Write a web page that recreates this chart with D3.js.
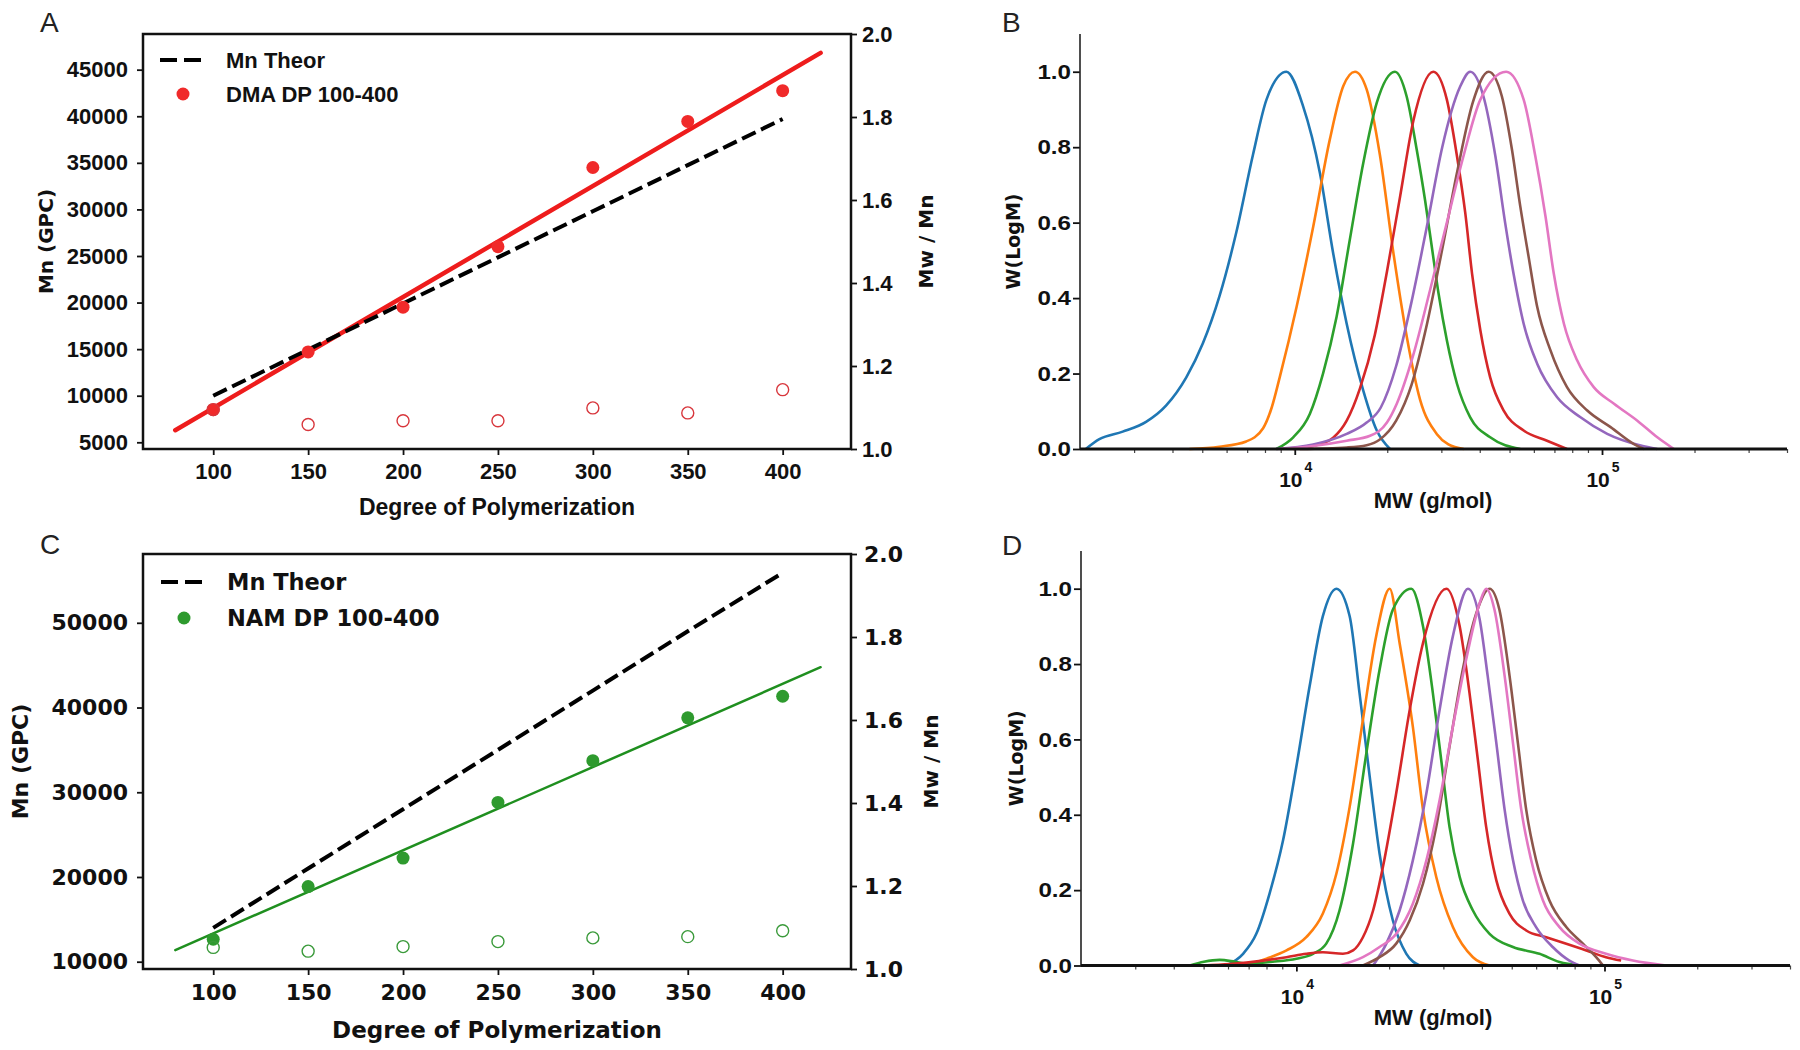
<!DOCTYPE html>
<html><head><meta charset="utf-8">
<script src="https://cdn.jsdelivr.net/npm/d3@7"></script>
<style>body{margin:0;background:#fff;}svg{display:block;}</style>
</head><body>
<svg id="fig" width="1800" height="1050"></svg>
<script>
// ---------------- DATA ----------------
const dp = [100, 150, 200, 250, 300, 350, 400];
// Panel A (DMA)
const dmaMnGPC   = [8500, 14700, 19500, 26000, 34500, 39450, 42750];
const dmaMnTheor = [10000, 14950, 19900, 24850, 29800, 34750, 39700];
const dmaPDI     = [1.095, 1.059, 1.068, 1.068, 1.099, 1.087, 1.143];
const dmaFitDP   = [80, 420];
const dmaFitMn   = [6300, 46800];
// Panel C (NAM)
const namMnGPC   = [12650, 18870, 22230, 28800, 33730, 38780, 41330];
const namMnTheor = [14000, 21000, 28000, 35000, 42000, 49000, 55900];
const namPDI     = [1.052, 1.043, 1.054, 1.066, 1.075, 1.078, 1.092];
const namFitDP   = [80, 420];
const namFitMn   = [11370, 44760];
const mnTicksA = [5000, 10000, 15000, 20000, 25000, 30000, 35000, 40000, 45000];
const mnTicksC = [10000, 20000, 30000, 40000, 50000];
const pdiTicks = [1.0, 1.2, 1.4, 1.6, 1.8, 2.0];
const wTicks = [0.0, 0.2, 0.4, 0.6, 0.8, 1.0];
const mwMajor = [1e4, 1e5];
const mwMinor = [3e3,4e3,5e3,6e3,7e3,8e3,9e3,2e4,3e4,4e4,5e4,6e4,7e4,8e4,9e4,2e5,3e5,4e5];

// Panel B GPC traces: [log10(MW), W(logM)]
const bBlue = [[3.320,0],[3.364,0.026],[3.440,0.046],[3.516,0.072],[3.581,0.115],[3.647,0.19],[3.701,0.28],[3.755,0.405],[3.810,0.575],[3.864,0.78],[3.908,0.926],[3.973,1.0],[4.027,0.909],[4.082,0.731],[4.125,0.519],[4.169,0.332],[4.223,0.155],[4.267,0.049],[4.310,0]];
const bOrange = [[3.657,0],[3.755,0.006],[3.842,0.02],[3.897,0.055],[3.925,0.11],[3.951,0.19],[4.006,0.377],[4.060,0.589],[4.114,0.82],[4.158,0.962],[4.196,1.0],[4.234,0.953],[4.277,0.78],[4.321,0.52],[4.364,0.30],[4.408,0.13],[4.462,0.04],[4.50,0.012],[4.55,0]];
const bGreen = [[3.940,0],[3.995,0.031],[4.049,0.093],[4.092,0.2],[4.136,0.35],[4.179,0.554],[4.223,0.758],[4.267,0.918],[4.326,1.0],[4.364,0.935],[4.397,0.793],[4.424,0.66],[4.446,0.536],[4.468,0.412],[4.495,0.288],[4.528,0.173],[4.571,0.084],[4.636,0.031],[4.734,0]];
const bRed = [[3.995,0],[4.060,0.008],[4.125,0.03],[4.169,0.075],[4.212,0.16],[4.26,0.30],[4.30,0.47],[4.343,0.67],[4.386,0.87],[4.451,1.0],[4.495,0.926],[4.528,0.776],[4.555,0.625],[4.577,0.465],[4.604,0.315],[4.636,0.19],[4.680,0.102],[4.745,0.049],[4.821,0.022],[4.886,0]];
const bPurple = [[3.940,0],[4.060,0.012],[4.169,0.04],[4.234,0.07],[4.28,0.11],[4.33,0.22],[4.38,0.39],[4.43,0.59],[4.48,0.80],[4.538,0.96],[4.571,1.0],[4.614,0.935],[4.653,0.776],[4.685,0.598],[4.712,0.465],[4.745,0.332],[4.789,0.226],[4.854,0.137],[4.930,0.084],[5.017,0.04],[5.126,0.009],[5.180,0]];
const bBrown = [[4.016,0],[4.169,0.004],[4.234,0.01],[4.277,0.025],[4.33,0.075],[4.38,0.17],[4.43,0.33],[4.48,0.53],[4.53,0.74],[4.58,0.92],[4.631,1.0],[4.674,0.935],[4.707,0.793],[4.734,0.643],[4.761,0.51],[4.789,0.377],[4.832,0.262],[4.886,0.164],[4.952,0.102],[5.028,0.058],[5.104,0.013],[5.137,0]];
const bPink = [[3.951,0],[4.06,0.008],[4.169,0.022],[4.245,0.035],[4.30,0.07],[4.332,0.12],[4.386,0.25],[4.440,0.42],[4.495,0.60],[4.549,0.776],[4.604,0.926],[4.688,1.0],[4.745,0.926],[4.783,0.776],[4.816,0.617],[4.843,0.465],[4.876,0.332],[4.919,0.235],[4.973,0.164],[5.039,0.12],[5.115,0.075],[5.180,0.031],[5.234,0]];

// Panel D GPC traces
const dBlue = [[3.773,0],[3.827,0.031],[3.870,0.084],[3.913,0.191],[3.957,0.333],[4.0,0.528],[4.043,0.741],[4.086,0.927],[4.130,1.0],[4.173,0.927],[4.205,0.723],[4.238,0.501],[4.270,0.297],[4.313,0.12],[4.357,0.031],[4.40,0]];
const dOrange = [[3.838,0],[3.903,0.018],[3.968,0.04],[4.032,0.075],[4.086,0.138],[4.130,0.244],[4.173,0.421],[4.216,0.652],[4.259,0.874],[4.303,1.0],[4.335,0.856],[4.378,0.634],[4.411,0.413],[4.454,0.235],[4.508,0.102],[4.573,0.022],[4.627,0]];
const dGreen = [[3.654,0],[3.70,0.01],[3.751,0.015],[3.80,0.01],[3.837,0.005],[3.923,0.01],[4.0,0.018],[4.054,0.031],[4.097,0.058],[4.140,0.146],[4.184,0.324],[4.227,0.563],[4.270,0.785],[4.313,0.944],[4.373,1.0],[4.411,0.9],[4.443,0.723],[4.470,0.546],[4.497,0.368],[4.530,0.235],[4.573,0.146],[4.627,0.084],[4.703,0.049],[4.789,0.031],[4.854,0.009],[4.919,0]];
const dRed = [[3.697,0],[3.784,0.004],[3.892,0.013],[3.968,0.022],[4.032,0.031],[4.086,0.035],[4.151,0.031],[4.184,0.04],[4.216,0.075],[4.249,0.146],[4.281,0.262],[4.324,0.457],[4.368,0.679],[4.411,0.856],[4.487,1.0],[4.530,0.9],[4.562,0.723],[4.589,0.546],[4.616,0.368],[4.649,0.226],[4.692,0.137],[4.746,0.093],[4.811,0.075],[4.876,0.058],[4.941,0.04],[5.005,0.022],[5.054,0.013]];
const dPurple = [[4.249,0],[4.292,0.058],[4.335,0.146],[4.378,0.279],[4.422,0.457],[4.465,0.679],[4.508,0.874],[4.557,1.0],[4.595,0.918],[4.621,0.768],[4.649,0.59],[4.676,0.413],[4.703,0.28],[4.735,0.173],[4.778,0.102],[4.832,0.049],[4.886,0.013],[4.919,0]];
const dBrown = [[4.216,0],[4.270,0.022],[4.324,0.058],[4.368,0.12],[4.411,0.217],[4.454,0.368],[4.497,0.581],[4.540,0.785],[4.584,0.935],[4.627,1.0],[4.659,0.944],[4.692,0.768],[4.719,0.59],[4.746,0.413],[4.778,0.28],[4.821,0.173],[4.876,0.102],[4.930,0.058],[4.973,0.022],[4.995,0]];
const dPink = [[4.140,0],[4.216,0.022],[4.270,0.049],[4.324,0.084],[4.378,0.164],[4.422,0.279],[4.465,0.439],[4.508,0.634],[4.551,0.812],[4.595,0.962],[4.616,1.0],[4.643,0.944],[4.676,0.768],[4.703,0.59],[4.730,0.413],[4.762,0.28],[4.800,0.173],[4.854,0.102],[4.919,0.058],[5.005,0.031],[5.092,0.013],[5.200,0]];

const palette = ['#1f77b4','#ff7f0e','#2ca02c','#d62728','#9467bd','#8c564b','#e377c2'];

// ---------------- DRAW ----------------
const ARIAL = "'Liberation Sans', Arial, Helvetica, sans-serif";
const DJV = "'DejaVu Sans', Verdana, sans-serif";
const svg = d3.select('#fig');

function styleAxis(g, font, size) {
  g.select('.domain').remove();
  g.selectAll('text').attr('font-family', font).attr('font-size', size)
    .attr('font-weight', 'bold').attr('fill', '#111');
  g.selectAll('line').attr('stroke', '#111').attr('stroke-width', 1.8);
}

function stretch(sel, k) {
  sel.each(function () {
    const w = this.getComputedTextLength();
    d3.select(this).attr('textLength', w * k).attr('lengthAdjust', 'spacingAndGlyphs');
  });
}

function panelLabel(t, x, y) {
  svg.append('text').attr('x', x).attr('y', y).text(t)
    .attr('font-family', ARIAL).attr('font-size', 28).attr('fill', '#222');
}

function rotLabel(t, x, y, font, size) {
  svg.append('text').attr('transform', `translate(${x},${y}) rotate(-90)`)
    .attr('text-anchor', 'middle').attr('dy', '0.36em').text(t)
    .attr('font-family', font).attr('font-size', size).attr('font-weight', 'bold').attr('fill', '#111');
}

function scatterPanel(c) {
  const g = svg.append('g');
  const x = d3.scaleLinear().domain(c.xDom).range([c.l, c.r]);
  const y = d3.scaleLinear().domain(c.yDom).range([c.b, c.t]);
  const y2 = d3.scaleLinear().domain([1, 2]).range([c.b, c.t]);

  const ax = g.append('g').attr('transform', `translate(0,${c.b})`)
    .call(d3.axisBottom(x).tickValues(dp).tickSize(6).tickPadding(c.xPad).tickFormat(d3.format('d')));
  styleAxis(ax, c.font, c.tickFs);
  const ay = g.append('g').attr('transform', `translate(${c.l},0)`)
    .call(d3.axisLeft(y).tickValues(c.yTicks).tickSize(6).tickPadding(9).tickFormat(d3.format('d')));
  styleAxis(ay, c.font, c.tickFs);
  const ay2 = g.append('g').attr('transform', `translate(${c.r},0)`)
    .call(d3.axisRight(y2).tickValues(pdiTicks).tickSize(6).tickPadding(c.y2Pad).tickFormat(d3.format('.1f')));
  styleAxis(ay2, c.font, c.tickFs);

  // fit line
  g.append('path').datum(c.fitDP.map((d, i) => [d, c.fitMn[i]]))
    .attr('d', d3.line().x(d => x(d[0])).y(d => y(d[1])))
    .attr('stroke', c.fitColor).attr('stroke-width', c.fitW).attr('fill', 'none').attr('stroke-linecap', 'round');
  // theory dashed
  g.append('path').datum(dp.map((d, i) => [d, c.theor[i]]))
    .attr('d', d3.line().x(d => x(d[0])).y(d => y(d[1])))
    .attr('stroke', '#000').attr('stroke-width', 4).attr('fill', 'none').attr('stroke-dasharray', '15 6');
  // filled points
  g.selectAll(null).data(dp).join('circle')
    .attr('cx', d => x(d)).attr('cy', (d, i) => y(c.mn[i])).attr('r', 6.5)
    .attr('fill', c.ptColor);
  // open PDI points
  g.selectAll(null).data(dp).join('circle')
    .attr('cx', d => x(d)).attr('cy', (d, i) => y2(c.pdi[i])).attr('r', 6)
    .attr('fill', 'none').attr('stroke', c.openColor).attr('stroke-width', 1.4);

  // box
  g.append('rect').attr('x', c.l).attr('y', c.t).attr('width', c.r - c.l).attr('height', c.b - c.t)
    .attr('fill', 'none').attr('stroke', '#111').attr('stroke-width', 2.5);

  // legend
  const L = c.legend;
  g.append('line').attr('x1', L.x0).attr('x2', L.x0 + 42).attr('y1', L.y1).attr('y2', L.y1)
    .attr('stroke', '#000').attr('stroke-width', 4).attr('stroke-dasharray', '17 7');
  g.append('circle').attr('cx', L.x0 + 23).attr('cy', L.y2).attr('r', 6.5).attr('fill', c.ptColor);
  [['Mn Theor', L.y1], [c.name, L.y2]].forEach(([t, yy]) => {
    g.append('text').attr('x', L.tx).attr('y', yy).attr('dy', '0.36em').text(t)
      .attr('font-family', c.font).attr('font-size', c.legFs).attr('font-weight', 'bold').attr('fill', '#111');
  });

  // axis labels
  g.append('text').attr('x', (c.l + c.r) / 2).attr('y', c.xlabY).attr('text-anchor', 'middle')
    .text('Degree of Polymerization').attr('font-family', c.font).attr('font-size', c.xlabFs)
    .attr('font-weight', 'bold').attr('fill', '#111');
  rotLabel('Mn (GPC)', c.ylabX, (c.t + c.b) / 2, DJV, c.ylabFs);
  rotLabel('Mw / Mn', c.y2labX, (c.t + c.b) / 2, DJV, 20);
}

scatterPanel({
  l: 143, r: 851, t: 34, b: 449, xDom: [63, 436], yDom: [4280, 48830],
  yTicks: mnTicksA, font: ARIAL, tickFs: 22, xPad: 8, y2Pad: 5,
  mn: dmaMnGPC, theor: dmaMnTheor, pdi: dmaPDI, fitDP: dmaFitDP, fitMn: dmaFitMn,
  fitColor: '#ee1c1c', fitW: 4.5, ptColor: '#f02a2a', openColor: '#d8363c',
  name: 'DMA DP 100-400', legFs: 22, legend: {x0: 160, tx: 226, y1: 60, y2: 94},
  xlabY: 515, xlabFs: 23, ylabX: 46, ylabFs: 20, y2labX: 926
});

scatterPanel({
  l: 143, r: 851, t: 554, b: 969, xDom: [63, 436], yDom: [9140, 58120],
  yTicks: mnTicksC, font: DJV, tickFs: 22, xPad: 9, y2Pad: 7,
  mn: namMnGPC, theor: namMnTheor, pdi: namPDI, fitDP: namFitDP, fitMn: namFitMn,
  fitColor: '#1f8f1f', fitW: 2.5, ptColor: '#2e9a2e', openColor: '#3a9a3a',
  name: 'NAM DP 100-400', legFs: 22.5, legend: {x0: 161, tx: 227, y1: 582, y2: 618},
  xlabY: 1038, xlabFs: 23, ylabX: 20, ylabFs: 22, y2labX: 931
});

function gpcPanel(c) {
  const g = svg.append('g');
  const x = d3.scaleLog().domain([2000, 400000]).range([c.l, c.r]);
  const y = d3.scaleLinear().domain([0, 1.1]).range([c.b, c.t]);

  const line = d3.line().x(d => x(Math.pow(10, d[0]))).y(d => y(d[1])).curve(d3.curveMonotoneX);
  c.curves.forEach((cv, i) => {
    g.append('path').datum(cv).attr('d', line).attr('fill', 'none')
      .attr('stroke', palette[i]).attr('stroke-width', 2.6).attr('stroke-linejoin', 'round');
  });

  const ay = g.append('g').attr('transform', `translate(${c.l},0)`)
    .call(d3.axisLeft(y).tickValues(wTicks).tickSize(7).tickPadding(2).tickFormat(d3.format('.1f')));
  styleAxis(ay, ARIAL, 21);
  stretch(ay.selectAll('text'), 1.15);
  const axMin = g.append('g').attr('transform', `translate(0,${c.b})`)
    .call(d3.axisBottom(x).tickValues(mwMinor).tickSize(4).tickFormat(''));
  styleAxis(axMin, ARIAL, 22);
  axMin.selectAll('line').attr('stroke-width', 1.2).attr('stroke', '#444');
  const axMaj = g.append('g').attr('transform', `translate(0,${c.b})`)
    .call(d3.axisBottom(x).tickValues(mwMajor).tickSize(6).tickFormat(''));
  styleAxis(axMaj, ARIAL, 22);
  mwMajor.forEach(v => {
    const t = g.append('text').attr('x', x(v) + 1).attr('y', c.b + 38).attr('text-anchor', 'middle')
      .attr('font-family', ARIAL).attr('font-weight', 'bold').attr('fill', '#111');
    t.append('tspan').attr('font-size', 21).text('10');
    t.append('tspan').attr('font-size', 14).attr('dx', 2).attr('dy', -15).text(String(Math.round(Math.log10(v))));
  });

  // spines
  g.append('line').attr('x1', c.l).attr('x2', c.l).attr('y1', c.t).attr('y2', c.b)
    .attr('stroke', '#222').attr('stroke-width', 1.6);
  g.append('line').attr('x1', c.l).attr('x2', c.r).attr('y1', c.b).attr('y2', c.b)
    .attr('stroke', '#111').attr('stroke-width', 2.8);

  g.append('text').attr('x', 1433).attr('y', c.b + 59).attr('text-anchor', 'middle').text('MW (g/mol)')
    .attr('font-family', ARIAL).attr('font-size', 22).attr('font-weight', 'bold').attr('fill', '#111');
  rotLabel('W(LogM)', c.ylabX, (c.t + c.b) / 2, DJV, 19);
}

gpcPanel({l: 1080, r: 1787, t: 34, b: 449, curves: [bBlue, bOrange, bGreen, bRed, bPurple, bBrown, bPink],
  ylabX: 1013});
gpcPanel({l: 1081, r: 1790, t: 551, b: 965.5, curves: [dBlue, dOrange, dGreen, dRed, dPurple, dBrown, dPink],
  ylabX: 1016});

panelLabel('A', 40, 32);
panelLabel('B', 1002, 32);
panelLabel('C', 40, 554);
panelLabel('D', 1002, 555);
</script>
</body></html>
